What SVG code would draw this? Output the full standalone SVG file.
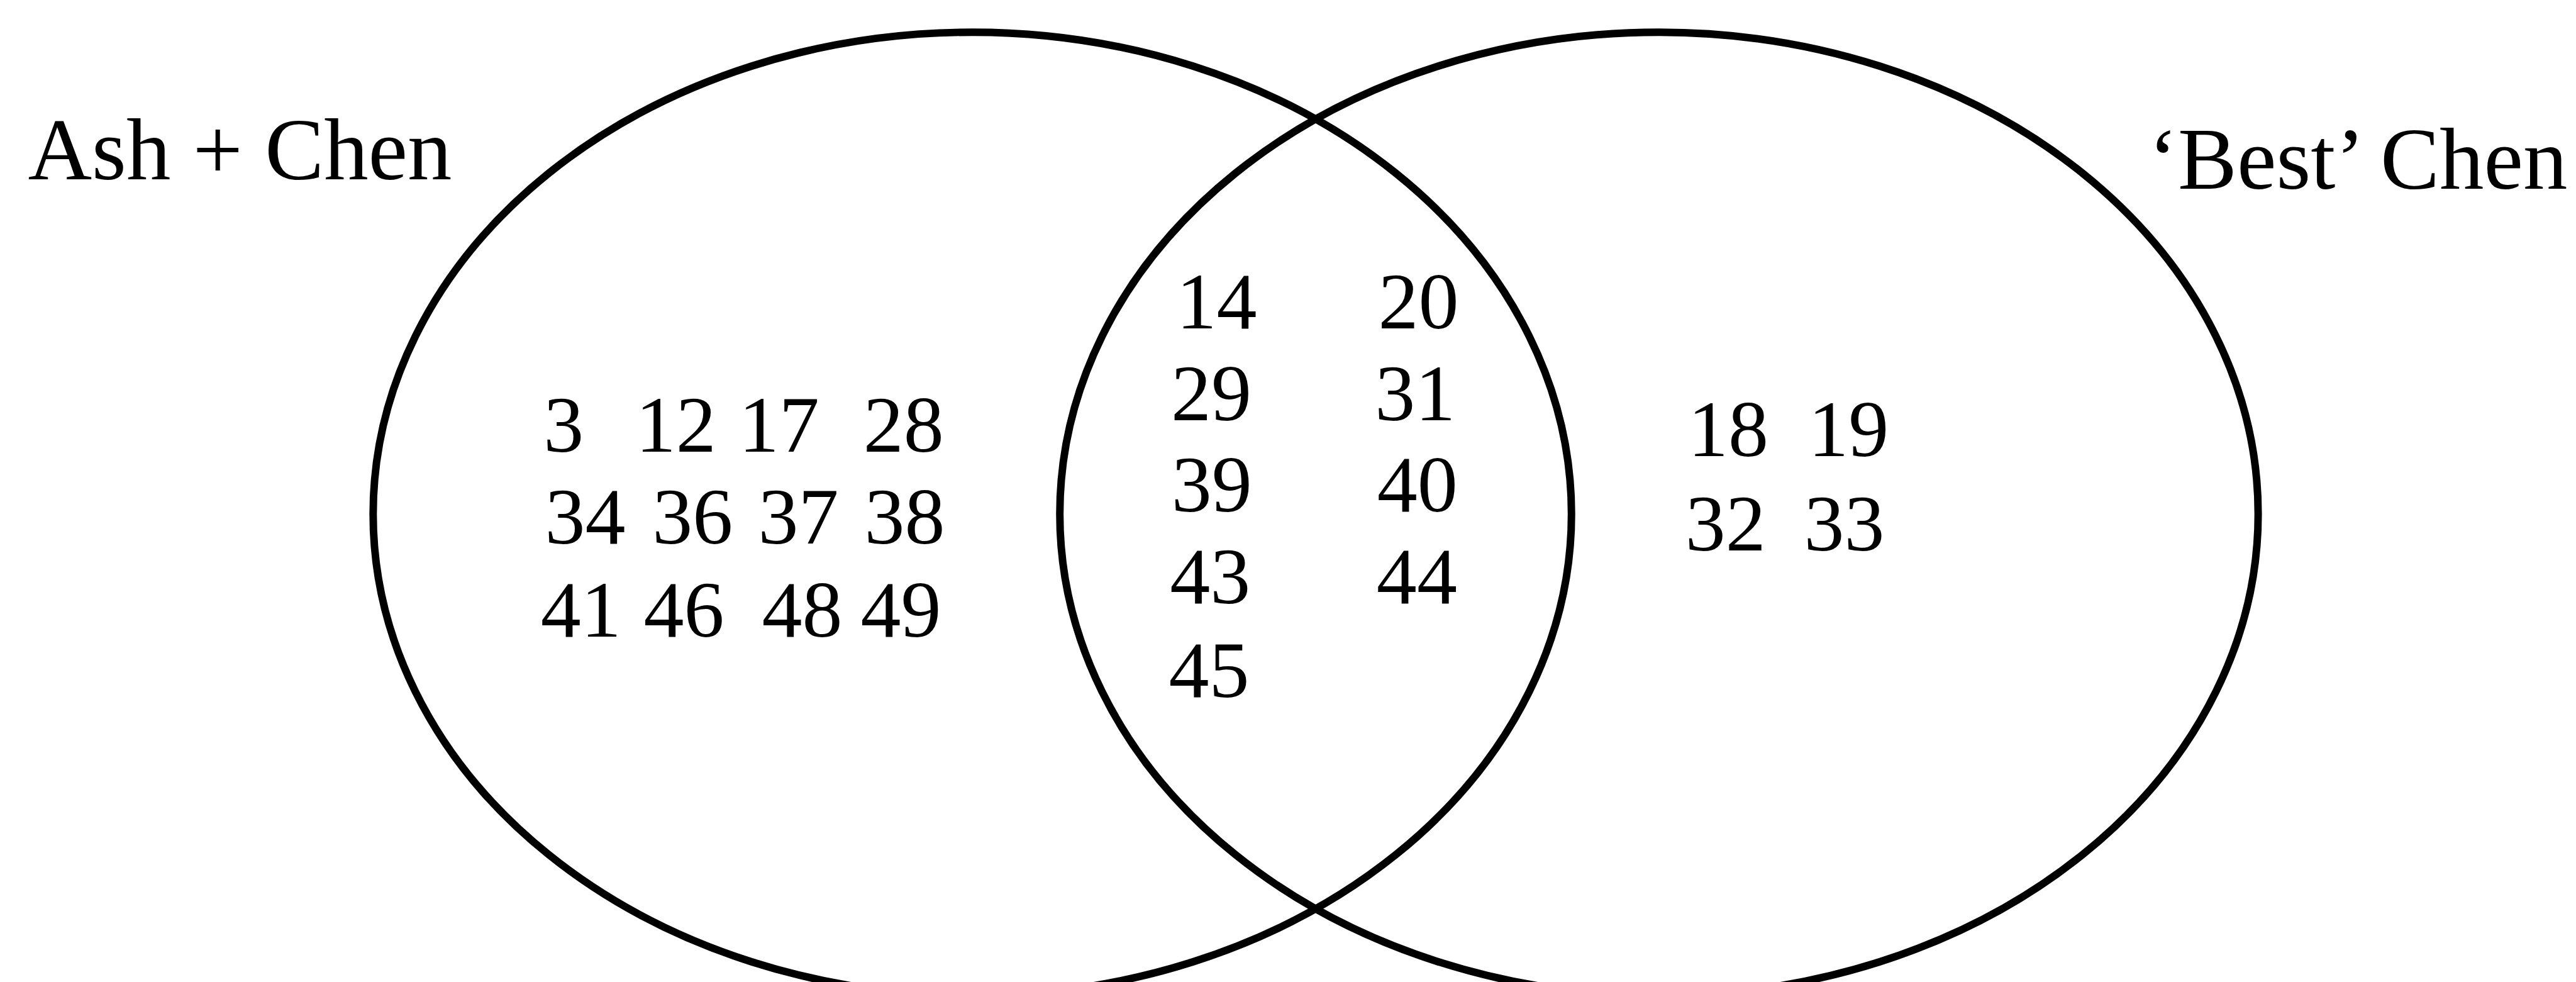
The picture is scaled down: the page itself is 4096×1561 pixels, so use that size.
<svg xmlns="http://www.w3.org/2000/svg" width="4096" height="1561" viewBox="0 0 4096 1561">
<style>
.set{fill:none;stroke:#000;stroke-width:14}
.lbl{font-family:"Liberation Serif","Times New Roman",serif;font-size:165px;fill:#000}
.num{font-family:"Liberation Serif","Times New Roman",serif;font-size:150px;fill:#000;text-anchor:middle}
</style>
<rect width="4096" height="1561" fill="#fff"/>
<g transform="scale(0.85369)">
<g id="set-ash-chen">
<ellipse class="set" cx="1811" cy="957" rx="1116" ry="897"/>
<text class="lbl" x="52" y="334">Ash + Chen</text>
<text class="num"><tspan x="1050" y="841">3</tspan><tspan x="1259" y="841">12</tspan><tspan x="1451" y="841">17</tspan><tspan x="1683" y="841">28</tspan></text>
<text class="num"><tspan x="1090" y="1012">34</tspan><tspan x="1290" y="1012">36</tspan><tspan x="1487" y="1012">37</tspan><tspan x="1685" y="1012">38</tspan></text>
<text class="num"><tspan x="1082" y="1186">41</tspan><tspan x="1274" y="1186">46</tspan><tspan x="1494" y="1186">48</tspan><tspan x="1678" y="1186">49</tspan></text>
</g>
<g id="set-best-chen">
<ellipse class="set" cx="3090" cy="957" rx="1116" ry="897"/>
<text class="lbl" x="4782" y="352" text-anchor="end">‘Best’ Chen</text>
<text class="num"><tspan x="3219" y="849">18</tspan><tspan x="3443" y="849">19</tspan></text>
<text class="num"><tspan x="3214" y="1025">32</tspan><tspan x="3435" y="1025">33</tspan></text>
</g>
<g id="intersection">
<text class="num"><tspan x="2266" y="612">14</tspan><tspan x="2642" y="612">20</tspan></text>
<text class="num"><tspan x="2256" y="783">29</tspan><tspan x="2636" y="783">31</tspan></text>
<text class="num"><tspan x="2257" y="952">39</tspan><tspan x="2640" y="952">40</tspan></text>
<text class="num"><tspan x="2254" y="1123">43</tspan><tspan x="2639" y="1123">44</tspan></text>
<text class="num"><tspan x="2252" y="1298">45</tspan></text>
</g>
<g id="connectors"/>
</g>
</svg>
